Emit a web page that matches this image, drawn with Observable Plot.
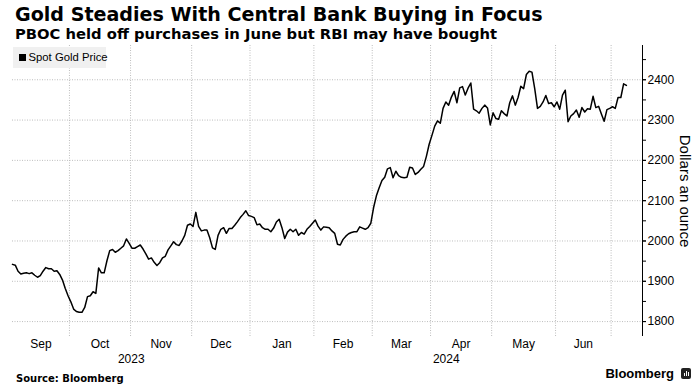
<!DOCTYPE html>
<html>
<head>
<meta charset="utf-8">
<script src="https://cdn.jsdelivr.net/npm/d3@7"></script>
<script src="https://cdn.jsdelivr.net/npm/@observablehq/plot@0.6"></script>
<style>
  body { margin: 0; background: #fff; }
  #wrap { position: relative; width: 696px; height: 392px; overflow: hidden; background: #fff; color: #000;
          font-family: "Liberation Sans", Arial, sans-serif; }
  .title { position: absolute; left: 15px; top: 4.5px; font: bold 19.1px/1 "DejaVu Sans", sans-serif; white-space: nowrap; }
  .sub { position: absolute; left: 15px; top: 26.6px; font: bold 14.75px/1 "DejaVu Sans", sans-serif; white-space: nowrap; }
  #chart { position: absolute; left: 0; top: 42px; }
  .legend { position: absolute; left: 13px; top: 47px; width: 93px; height: 21px; background: #f0f0f0; }
  .legend .sw { position: absolute; left: 6px; top: 6.5px; width: 7px; height: 7px; background: #000; }
  .legend .lb { position: absolute; left: 15.5px; top: 5px; font: 11.3px/1 "Liberation Sans", Arial, sans-serif; white-space: nowrap; }
  .source { position: absolute; left: 16px; top: 373.5px; font: bold 10px/1 "DejaVu Sans", sans-serif; white-space: nowrap; }
  .logo { position: absolute; right: 5px; top: 367px; font: bold 13px/1 "Liberation Sans", Arial, sans-serif; white-space: nowrap; display: flex; align-items: center; gap: 7px; }
  .ico { display: inline-block; width: 10px; height: 11px; background: #222; border-radius: 2px; position: relative; }
  .ico i { position: absolute; bottom: 3px; width: 1.4px; background: #fff; }
</style>
</head>
<body>
<div id="wrap">
  <div class="title">Gold Steadies With Central Bank Buying in Focus</div>
  <div class="sub">PBOC held off purchases in June but RBI may have bought</div>
  <div id="chart"></div>
  <div class="legend"><div class="sw"></div><div class="lb">Spot Gold Price</div></div>
  <div class="source">Source: Bloomberg</div>
  <div class="logo"><span>Bloomberg</span><span class="ico"><i style="left:3px;height:3px"></i><i style="left:5px;height:5px"></i><i style="left:7px;height:4px"></i></span></div>
</div>
<script>
// ---- data (trading-day number since 1 Sep 2023, spot gold $/oz) ----
const day = [0,1,2,3,4,5,6,7,8,9,10,11,12,13,14,15,16,17,18,19,20,21,22,23,24,25,26,27,28,29,
  30,31,32,33,34,35,36,37,38,39,40,41,42,43,44,45,46,47,48,49,50,51,52,53,54,55,56,57,58,59,
  60,61,62,63,64,65,66,67,68,69,70,71,72,73,74,75,76,77,78,79,80,81,82,83,84,85,86,87,88,89,
  90,91,92,93,94,95,96,97,98,99,100,101,102,103,104,105,106,107,108,109,110,111,112,113,114,115,116,117,118,119,
  120,121,122,123,124,125,126,127,128,129,130,131,132,133,134,135,136,137,138,139,140,141,142,143,144,145,146,147,148,149,
  150,151,152,153,154,155,156,157,158,159,160,161,162,163,164,165,166,167,168,169,170,171,172,173,174,175,176,177,178,179,
  180,181,182,183,184,185,186,187,188,189,190,191,192,193,194,195,196,197,198,199,200,201,202,203,204,205,206,207,208,209,
  210,211,212,213,214,215,216,217,218,219,220,221];
const price = [1942,1940,1925,1918,1920,1921,1919,1921,1915,1910,1914,1925,1934,1931,1931,1925,1926,1917,1903,1882,1864,1849,1831,1825,1823,1823,1835,1862,1864,1874,
  1870,1933,1921,1921,1951,1976,1979,1972,1976,1982,1988,2005,1994,1982,1982,1986,1990,1980,1968,1955,1958,1947,1939,1946,1958,1962,1978,1988,1998,1991,
  1989,2000,2014,2039,2042,2036,2071,2036,2025,2027,2027,2008,1983,1979,2014,2029,2033,2019,2031,2031,2039,2048,2058,2066,2075,2063,2061,2058,2040,2042,
  2033,2029,2029,2023,2032,2047,2054,2033,2006,2022,2029,2023,2029,2014,2021,2017,2029,2036,2044,2052,2037,2027,2035,2034,2033,2025,2019,1992,1990,2004,
  2012,2018,2021,2023,2023,2035,2032,2029,2033,2044,2083,2112,2132,2150,2158,2179,2182,2157,2173,2162,2158,2157,2158,2183,2181,2165,2170,2178,2185,2210,
  2240,2262,2285,2298,2292,2329,2345,2337,2357,2371,2343,2380,2383,2362,2379,2392,2327,2323,2317,2329,2337,2330,2288,2318,2304,2302,2323,2316,2310,2343,
  2360,2337,2356,2384,2378,2413,2421,2419,2378,2329,2334,2345,2361,2341,2343,2333,2345,2327,2362,2374,2296,2310,2316,2325,2307,2331,2320,2328,2327,2359,
  2331,2334,2315,2297,2326,2329,2333,2329,2356,2356,2390,2386];

const seriesStart = "2023-09-01";
const monthStarts = ["2023-09-01","2023-10-01","2023-11-01","2023-12-01","2024-01-01","2024-02-01",
                     "2024-03-01","2024-04-01","2024-05-01","2024-06-01","2024-07-01"];
const monthNames = ["Sep","Oct","Nov","Dec","Jan","Feb","Mar","Apr","May","Jun"];
const yearNames = ["2023","2024"];
const yearStarts = ["2023-09-01","2024-01-01"];
const yTicks = [1800,1900,2000,2100,2200,2300,2400];
const yMinorTicks = [1800,1850,1900,1950,2000,2050,2100,2150,2200,2250,2300,2350,2400,2450];

// ---- helpers ----
const parse = d3.timeParse("%Y-%m-%d");
const start = parse(seriesStart);
const tradingDay = s => d3.timeDay.range(start, parse(s)).filter(d => d.getDay() !== 0 && d.getDay() !== 6).length;
const X0 = 0, X1 = 226.8;
const bounds = monthStarts.map(s => tradingDay(s) - 0.5);
const gridDays = bounds.filter(b => b > X0);
const monthLabels = monthNames.map((name, i) => ({name, mid: (Math.max(bounds[i], X0) + Math.min(bounds[i + 1], X1)) / 2}));
const yb = yearStarts.map(s => tradingDay(s) - 0.5);
const yearLabels = yearNames.map((name, i) => ({name, mid: (Math.max(yb[i], X0) + (i + 1 < yb.length ? yb[i + 1] : X1)) / 2}));
const data = day.map((d, i) => ({day: d, price: price[i]}));

const grid = {stroke: "#bdbdbd", strokeOpacity: 1, strokeDasharray: "1,1.5"};
const chart = Plot.plot({
  width: 696, height: 324,
  marginLeft: 12, marginRight: 54, marginTop: 3, marginBottom: 30,
  x: {domain: [X0, X1], axis: null},
  y: {domain: [1763, 2485]},
  style: {fontFamily: '"Liberation Sans", Arial, sans-serif', fontSize: "12px", color: "#000", background: "transparent", overflow: "visible"},
  marks: [
    Plot.gridY(yTicks, grid),
    Plot.ruleX(gridDays, grid),
    Plot.ruleX([X1], {stroke: "#000", strokeWidth: 1}),
    Plot.axisY(yMinorTicks, {anchor: "right", tickSize: 3, tickFormat: () => "", label: null}),
    Plot.axisY(yTicks, {anchor: "right", tickSize: 3, tickPadding: 2, fontSize: 12, tickFormat: d3.format("d"), label: null}),
    Plot.text(monthLabels, {x: "mid", text: "name", frameAnchor: "bottom", lineAnchor: "top", dy: 2.5, fontSize: 12}),
    Plot.text(yearLabels, {x: "mid", text: "name", frameAnchor: "bottom", lineAnchor: "top", dy: 18, fontSize: 12}),
    Plot.text(["Dollars an ounce"], {frameAnchor: "right", textAnchor: "middle", lineAnchor: "middle", rotate: 90, dx: 42, fontSize: 15}),
    Plot.line(data, {x: "day", y: "price", stroke: "#000", strokeWidth: 1.5})
  ]
});
document.getElementById("chart").append(chart);
</script>
</body>
</html>
